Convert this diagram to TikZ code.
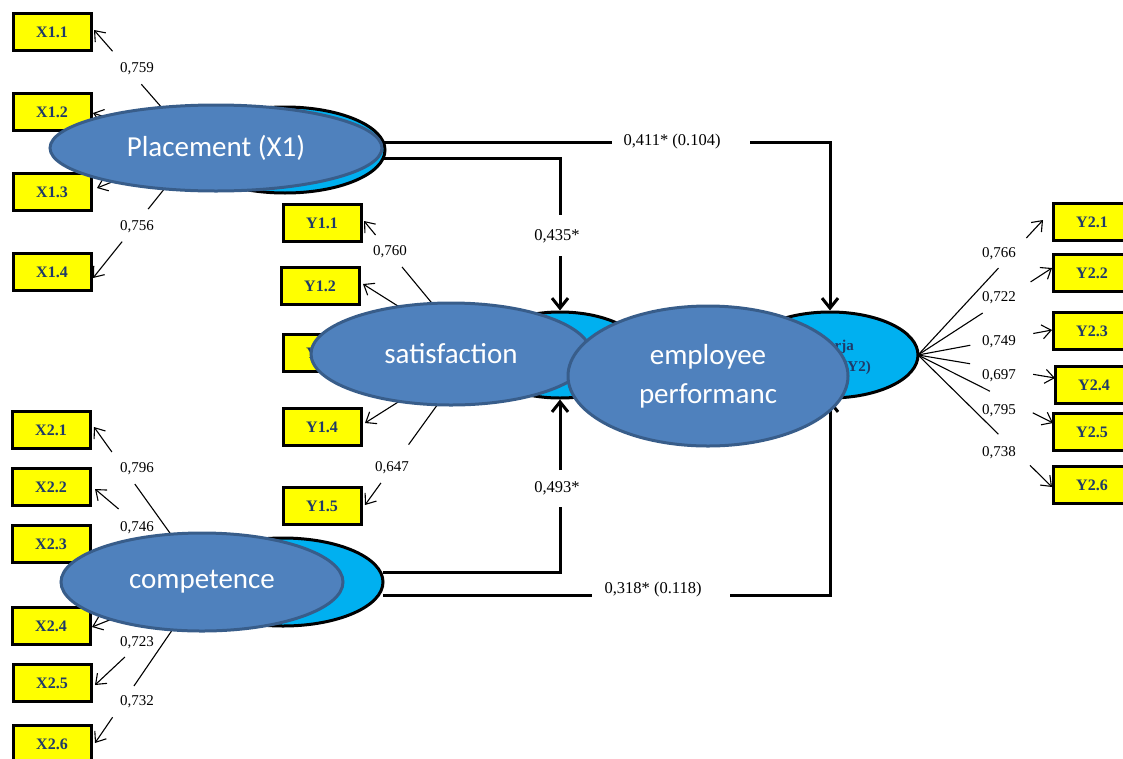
\documentclass[tikz,border=0pt]{standalone}
\usepackage{fontspec}
\setmainfont{Liberation Serif}
\newfontfamily\calibrifont{Carlito}
\usetikzlibrary{shapes.geometric,arrows.meta,calc}
\definecolor{frontfill}{HTML}{4F81BD}
\definecolor{frontdraw}{HTML}{385D8A}
\definecolor{backfill}{HTML}{00B0F0}
\definecolor{boxtext}{HTML}{1F3A68}
\definecolor{boxfill}{HTML}{FFFF00}
\newcommand\ldgap[7]{% origin, tip, tA, tB, name, pos, text
  \draw[load] (#1) -- ($(#1)!#3!(#2)$);
  \draw[loadarrow] ($(#1)!#4!(#2)$) -- (#2);
  \node[lbl] (#5) at #6 {#7};}
\begin{document}
\begin{tikzpicture}[x=1pt,y=-1pt,
  ind/.style={draw=black, line width=3pt, fill=boxfill, minimum width=78pt, minimum height=37pt, inner sep=0pt,
    font=\fontsize{16}{18}\selectfont\bfseries, text=boxtext},
  front/.style={ellipse, draw=frontdraw, line width=3pt, fill=frontfill, inner sep=0pt, text=white,
    font=\calibrifont\fontsize{29}{39}\selectfont, align=center},
  back/.style={ellipse, draw=black, line width=3pt, fill=backfill, inner sep=0pt},
  load/.style={line width=1.1pt},
  loadarrow/.style={line width=1.1pt, -{Straight Barb[length=9pt,width=14pt]}},
  spath/.style={line width=3pt},
  sarrow/.style={line width=3pt, -{Straight Barb[length=10pt,width=16pt]}},
  lbl/.style={font=\fontsize{15}{17}\selectfont, inner sep=1pt},
  plbl/.style={font=\fontsize{16.5}{18}\selectfont, inner sep=1pt},
  y2txt/.style={font=\fontsize{15}{18}\selectfont\bfseries, text=boxtext, inner sep=0pt},
]
\useasboundingbox (0,0) rectangle (1123,758);
\clip (0,0) rectangle (1123,758);

% indicator boxes
\node[ind] (X11) at (52,32) {X1.1};
\node[ind] (X12) at (52,112) {X1.2};
\node[ind] (X13) at (52,192) {X1.3};
\node[ind] (X14) at (52,272) {X1.4};
\node[ind] (Y11) at (322,223) {Y1.1};
\node[ind] (Y12) at (320,286) {Y1.2};
\node[ind] (Y13) at (322,353) {Y1.3};
\node[ind] (Y14) at (322,427) {Y1.4};
\node[ind] (Y15) at (322,506) {Y1.5};
\node[ind] (X21) at (51,430) {X2.1};
\node[ind] (X22) at (51,487) {X2.2};
\node[ind] (X23) at (51,544) {X2.3};
\node[ind] (X24) at (51,626) {X2.4};
\node[ind] (X25) at (52,683) {X2.5};
\node[ind] (X26) at (52,744) {X2.6};
\node[ind] (Y21) at (1092,222) {Y2.1};
\node[ind] (Y22) at (1092,273) {Y2.2};
\node[ind] (Y23) at (1092,331) {Y2.3};
\node[ind] (Y24) at (1094,385) {Y2.4};
\node[ind] (Y25) at (1092,432) {Y2.5};
\node[ind] (Y26) at (1092,485) {Y2.6};

% origins and tips
\coordinate (o1) at (197,148);
\coordinate (o2) at (474,354);
\coordinate (o3) at (205,582);
\coordinate (o4) at (918,355);
\coordinate (t11) at (94,30);
\coordinate (t12) at (93,113);
\coordinate (t13) at (97,188);
\coordinate (t14) at (93,278);
\coordinate (s11) at (364,221);
\coordinate (s12) at (363,284);
\coordinate (s14) at (365,423);
\coordinate (s15) at (365,505);
\coordinate (t21) at (94,427);
\coordinate (t22) at (95,489);
\coordinate (t24) at (92,627);
\coordinate (t25) at (95,685);
\coordinate (t26) at (95,743);
\coordinate (u1) at (1043,220);
\coordinate (u2) at (1052,268);
\coordinate (u3) at (1052,330);
\coordinate (u4) at (1055,378);
\coordinate (u5) at (1053,423);
\coordinate (u6) at (1052,487);

% loadings
\ldgap{o1}{t11}{0.54}{0.82}{l11}{(137,69)}{0,759}
\draw[loadarrow] (o1) -- (t12);
\draw[loadarrow] (o1) -- (t13);
\ldgap{o1}{t14}{0.47}{0.72}{l14}{(137,227)}{0,756}
\ldgap{o2}{s11}{0.654}{0.895}{m11}{(390,252)}{0,760}
\draw[loadarrow] (o2) -- (s12);
\draw[loadarrow] (o2) -- (s14);
\ldgap{o2}{s15}{0.60}{0.854}{m15}{(392,468)}{0,647}
\ldgap{o3}{t21}{0.632}{0.839}{l21}{(137,469)}{0,796}
\ldgap{o3}{t22}{0.5}{0.785}{l22}{(137,528)}{0,746}
\draw[loadarrow] (o3) -- (t24);
\ldgap{o3}{t25}{0.45}{0.728}{l25}{(137,643)}{0,723}
\ldgap{o3}{t26}{0.646}{0.84}{l26}{(137,702)}{0,732}
\ldgap{o4}{u1}{0.644}{0.867}{n1}{(999,254)}{0,766}
\ldgap{o4}{u2}{0.483}{0.84}{n2}{(999,298)}{0,722}
\ldgap{o4}{u3}{0.39}{0.86}{n3}{(999,342)}{0,749}
\ldgap{o4}{u4}{0.38}{0.84}{n4}{(999,376)}{0,697}
\ldgap{o4}{u5}{0.533}{0.85}{n5}{(999,411)}{0,795}
\ldgap{o4}{u6}{0.6}{0.836}{n6}{(999,453)}{0,738}

% back ellipses
\node[back, minimum width=200pt, minimum height=86pt] (x1b) at (285,150) {};
\node[back, minimum width=170pt, minimum height=86pt] (y1b) at (560,355) {};
\node[back, minimum width=176pt, minimum height=86pt] (y2b) at (830,355) {};
\node[back, minimum width=200pt, minimum height=88pt] (x2b) at (283,582) {};
\node[y2txt, anchor=base east] (y2t1) at (854,350) {Kinerja};
\node[y2txt, anchor=base east] (y2t2) at (871,371) {Karyawan (Y2)};

% structural paths
\coordinate (p1a) at (384,142);
\coordinate (p1b) at (830,142);
\coordinate (p2a) at (384,158);
\coordinate (p2b) at (560,158);
\coordinate (p3a) at (383,572);
\coordinate (p3b) at (560,572);
\coordinate (p4a) at (383,595);
\coordinate (p4b) at (830,595);
\draw[spath] (p1a) -- (612,142);
\draw[sarrow] (750,142) -- (p1b) -- (y2b.north);
\node[plbl] (lp1) at (672,142) {0,411* (0.104)};
\draw[spath] (p2a) -- (p2b) -- (560,215);
\draw[sarrow] (560,256) -- (y1b.north);
\node[plbl] (lp2) at (557,236) {0,435*};
\draw[spath] (p3a) -- (p3b) -- (560,507);
\draw[sarrow] (560,470) -- (y1b.south);
\node[plbl] (lp3) at (557,488) {0,493*};
\draw[spath] (p4a) -- (592,595);
\draw[sarrow] (730,595) -- (p4b) -- (y2b.south);
\node[plbl] (lp4) at (653,590) {0,318* (0.118)};

% front ellipses
\node[front, minimum width=332pt, minimum height=86pt] (x1f) at (216,148) {Placement (X1)};
\node[front, minimum width=280pt, minimum height=102pt] (y1f) at (451,354) {satisfaction};
\node[front, minimum width=280pt, minimum height=140pt] (y2f) at (708,376) {employee\\performanc};
\node[front, minimum width=282pt, minimum height=98pt] (x2f) at (202,582) {competence};
\end{tikzpicture}
\end{document}
